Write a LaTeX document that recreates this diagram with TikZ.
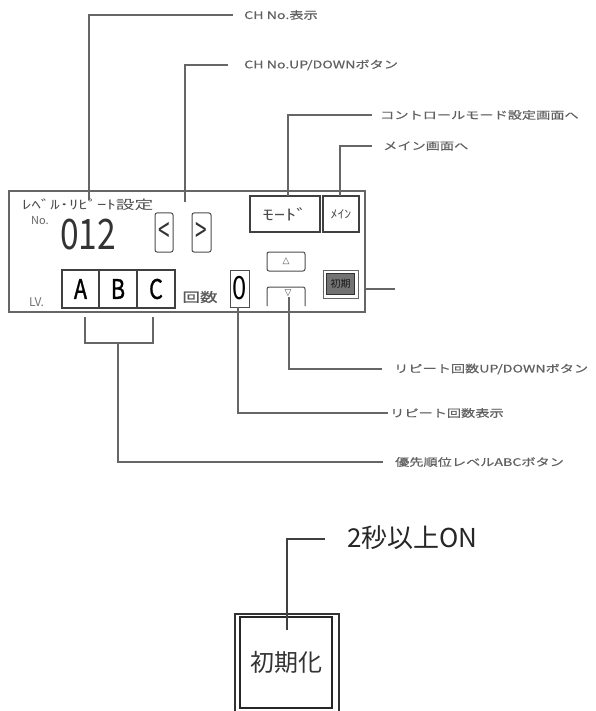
\documentclass[tikz,border=0pt]{standalone}
\usepackage{fontspec}
\setmainfont{Noto Sans CJK JP}
\newfontfamily\lblfont[FakeStretch=1.35,FakeBold=0.6]{Noto Sans CJK JP}
\newfontfamily\widefont[FakeStretch=1.5]{Noto Sans CJK JP}
\newfontfamily\midfont[FakeStretch=1.2]{Noto Sans CJK JP}
\newfontfamily\condfont[FakeStretch=0.8]{Noto Sans CJK JP}
\newfontfamily\condbold[FakeStretch=0.8,FakeBold=1]{Noto Sans CJK JP}
\newfontfamily\symfont{DejaVu Sans}
\begin{document}
\begin{tikzpicture}[x=1pt,y=-1pt,
  lead/.style={draw=black!60, line width=1.1pt},
  lab/.style={anchor=west, inner sep=0pt, text=black!62, font=\lblfont\fontsize{10.5}{12}\selectfont},
  btn/.style={draw=black!75, line width=2pt, inner sep=0pt},
  thinbtn/.style={draw=black!70, line width=1pt, rounded corners=2pt, inner sep=0pt},
  txt/.style={inner sep=0pt, text=black!80}
]
\useasboundingbox (0,0) rectangle (595,711);

% panel
\node[draw=black!60, line width=1.3pt, minimum width=356pt, minimum height=121pt, inner sep=0pt] (panel) at (187,251.5) {};

% panel texts
\node[txt, anchor=west, font=\widefont\fontsize{12.5}{13}\selectfont, text=black!70] (title) at (22,205) {ﾚﾍﾞﾙ･ﾘﾋﾟｰﾄ設定};
\node[txt, anchor=west, font=\fontsize{11}{12}\selectfont, text=black!60] (no) at (31,221) {No.};
\node[txt, font=\condfont\fontsize{42}{44}\selectfont] (num) at (88,235) {012};

% CH up/down
\node[thinbtn, minimum width=18pt, minimum height=39pt] (lt) at (164,232.5) {};
\node[txt, font=\fontsize{26}{28}\selectfont] (ltc) at (lt) {\scalebox{0.8}[1.3]{<}};
\node[thinbtn, minimum width=19pt, minimum height=39pt] (gt) at (201.5,232.5) {};
\node[txt, font=\fontsize{26}{28}\selectfont] (gtc) at (gt) {\scalebox{0.8}[1.3]{>}};

% mode / main
\node[btn, minimum width=70pt, minimum height=36pt, font=\widefont\fontsize{15}{16}\selectfont, text=black!70] (mode) at (285,214) {ﾓｰﾄﾞ};
\node[btn, minimum width=36pt, minimum height=36pt, font=\midfont\fontsize{11.5}{12}\selectfont, text=black!70] (main) at (341,214) {ﾒｲﾝ};

% repeat up/down
\node[thinbtn, minimum width=38pt, minimum height=19pt, font=\symfont\fontsize{9}{10}\selectfont, text=black!70] (up) at (286,261.5) {△};
\draw[draw=black!70, line width=1pt, rounded corners=2pt] (267,306) -- (267,287) -- (305,287) -- (305,306);
\node[txt, font=\symfont\fontsize{9}{10}\selectfont, text=black!70] (down) at (288,293) {▽};

% init small button
\node[draw=black!60, line width=1pt, minimum width=35pt, minimum height=28pt, inner sep=0pt] (ini) at (340.5,284) {};
\node[fill=black!55, draw=black!80, line width=0.8pt, minimum width=28pt, minimum height=21pt, inner sep=0pt, font=\fontsize{10}{11}\selectfont, text=black!90] (inic) at (ini) {初期};

% level
\node[txt, anchor=west, font=\fontsize{12}{13}\selectfont, text=black!55] (lv) at (29,302) {LV.};
\node[btn, minimum width=37pt, minimum height=38pt, font=\condbold\fontsize{27}{29}\selectfont] (A) at (80.5,289) {A};
\node[btn, minimum width=38pt, minimum height=38pt, font=\condbold\fontsize{27}{29}\selectfont] (B) at (118,289) {B};
\node[btn, minimum width=38pt, minimum height=38pt, font=\condbold\fontsize{27}{29}\selectfont] (C) at (156,289) {C};
\node[txt, font=\lblfont\fontsize{13}{14}\selectfont, text=black!65] (kaisu) at (200,297) {回数};
\node[draw=black!70, line width=1pt, minimum width=19pt, minimum height=37pt, inner sep=0pt, font=\condfont\fontsize{32}{34}\selectfont] (cnt) at (239.5,288.5) {0};

% labels
\node[lab] (l1) at (244,15) {CH No.表示};
\node[lab] (l2) at (244,65) {CH No.UP/DOWNボタン};
\node[lab] (l3) at (380,115) {コントロールモード設定画面へ};
\node[lab] (l4) at (383,146) {メイン画面へ};
\node[lab] (l5) at (394,369) {リピート回数UP/DOWNボタン};
\node[lab] (l6) at (390,413) {リピート回数表示};
\node[lab] (l7) at (395,462) {優先順位レベルABCボタン};

% leaders
\coordinate (c1) at (89,200);
\coordinate (e1) at (233,15);
\draw[lead] (c1) |- (e1);
\coordinate (c2) at (185,202);
\coordinate (e2) at (228,65);
\draw[lead] (c2) |- (e2);
\coordinate (c3) at (288,196);
\coordinate (e3) at (372,115);
\draw[lead] (c3) |- (e3);
\coordinate (c4) at (340,196);
\coordinate (e4) at (372,146);
\draw[lead] (c4) |- (e4);
\coordinate (c5) at (365,289);
\coordinate (e5) at (395,289);
\draw[lead] (c5) -- (e5);
\coordinate (c6) at (289,297);
\coordinate (e6) at (382,369);
\draw[lead] (c6) |- (e6);
\coordinate (c7) at (238,307);
\coordinate (e7) at (388,413);
\draw[lead] (c7) |- (e7);
\coordinate (b1) at (85,317);
\coordinate (b2) at (153,317);
\draw[lead] (b1) -- (85,343) -- (153,343) -- (b2);
\coordinate (c8) at (118,343);
\coordinate (e8) at (383,462);
\draw[lead] (c8) |- (e8);

% bottom init button
\draw[draw=black!80, line width=1.3pt] (235,712) -- (235,614) -- (339,614) -- (339,712);
\node[draw=black!85, line width=1.3pt, minimum width=92pt, minimum height=91pt, inner sep=0pt, font=\fontsize{24}{26}\selectfont, text=black!80] (init) at (286,662.5) {初期化};
\node[txt, anchor=west, font=\fontsize{26}{28}\selectfont, text=black!85] (l9) at (347,538) {2秒以上ON};
\coordinate (c9) at (287,630);
\coordinate (e9) at (325,539);
\draw[draw=black!75, line width=1.3pt] (c9) |- (e9);
\end{tikzpicture}
\end{document}
